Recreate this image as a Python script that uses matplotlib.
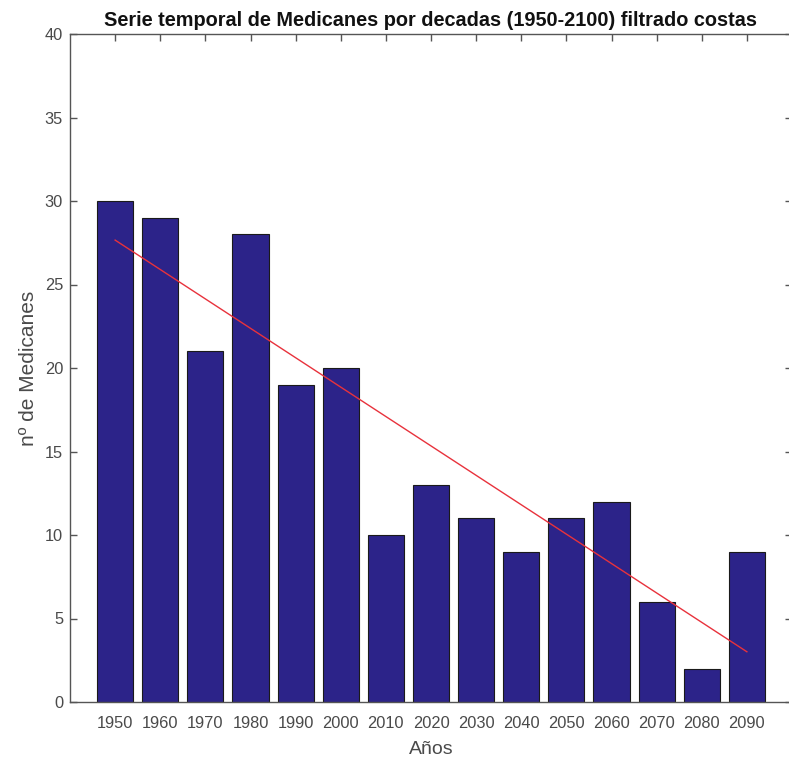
import numpy as np
import matplotlib
matplotlib.use("Agg")
import matplotlib.pyplot as plt

plt.rcParams['font.family'] = ['Liberation Sans', 'DejaVu Sans']

decades = [1950, 1960, 1970, 1980, 1990, 2000, 2010, 2020, 2030, 2040, 2050, 2060, 2070, 2080, 2090]
counts = [30, 29, 21, 28, 19, 20, 10, 13, 11, 9, 11, 12, 6, 2, 9]
yticks = [0, 5, 10, 15, 20, 25, 30, 35, 40]

title = "Serie temporal de Medicanes por decadas (1950-2100) filtrado costas"
xlabel = "Años"
ylabel = "nº de Medicanes"

fig = plt.figure(figsize=(7.89, 7.61), dpi=100)
ax = fig.add_axes([70.0/789, 1-702/761, (792-70.0)/789, (702-34)/761])

ax.bar(decades, counts, width=8, color='#2c2389', edgecolor='#1a1a1a', linewidth=0.8, zorder=2)

x = np.array(decades, dtype=float)
coef = np.polyfit(x, counts, 1)
ax.plot(x, np.polyval(coef, x), color='#e8323c', linewidth=1.0, zorder=3)

ax.set_xlim(1940, 2100)
ax.set_ylim(0, 40)
ax.set_xticks(decades)
ax.set_xticklabels([str(d) for d in decades])
ax.set_yticks(yticks)

for s in ax.spines.values():
    s.set_color('#555555')
    s.set_linewidth(1.0)
    s.set_zorder(4)

ax.tick_params(axis='both', direction='in', length=5, width=1, colors='#555555',
               labelcolor='#4a4a4a', labelsize=11.8, top=True, right=True)
ax.tick_params(axis='x', pad=10)
ax.tick_params(axis='y', pad=5)

ax.set_title(title, fontsize=14.3, fontweight='bold', color='#111111', pad=6)
ax.set_xlabel(xlabel, fontsize=14, color='#4a4a4a', labelpad=7)
ax.set_ylabel(ylabel, fontsize=15, color='#4a4a4a', labelpad=5)

fig.savefig("out.png", dpi=100)
